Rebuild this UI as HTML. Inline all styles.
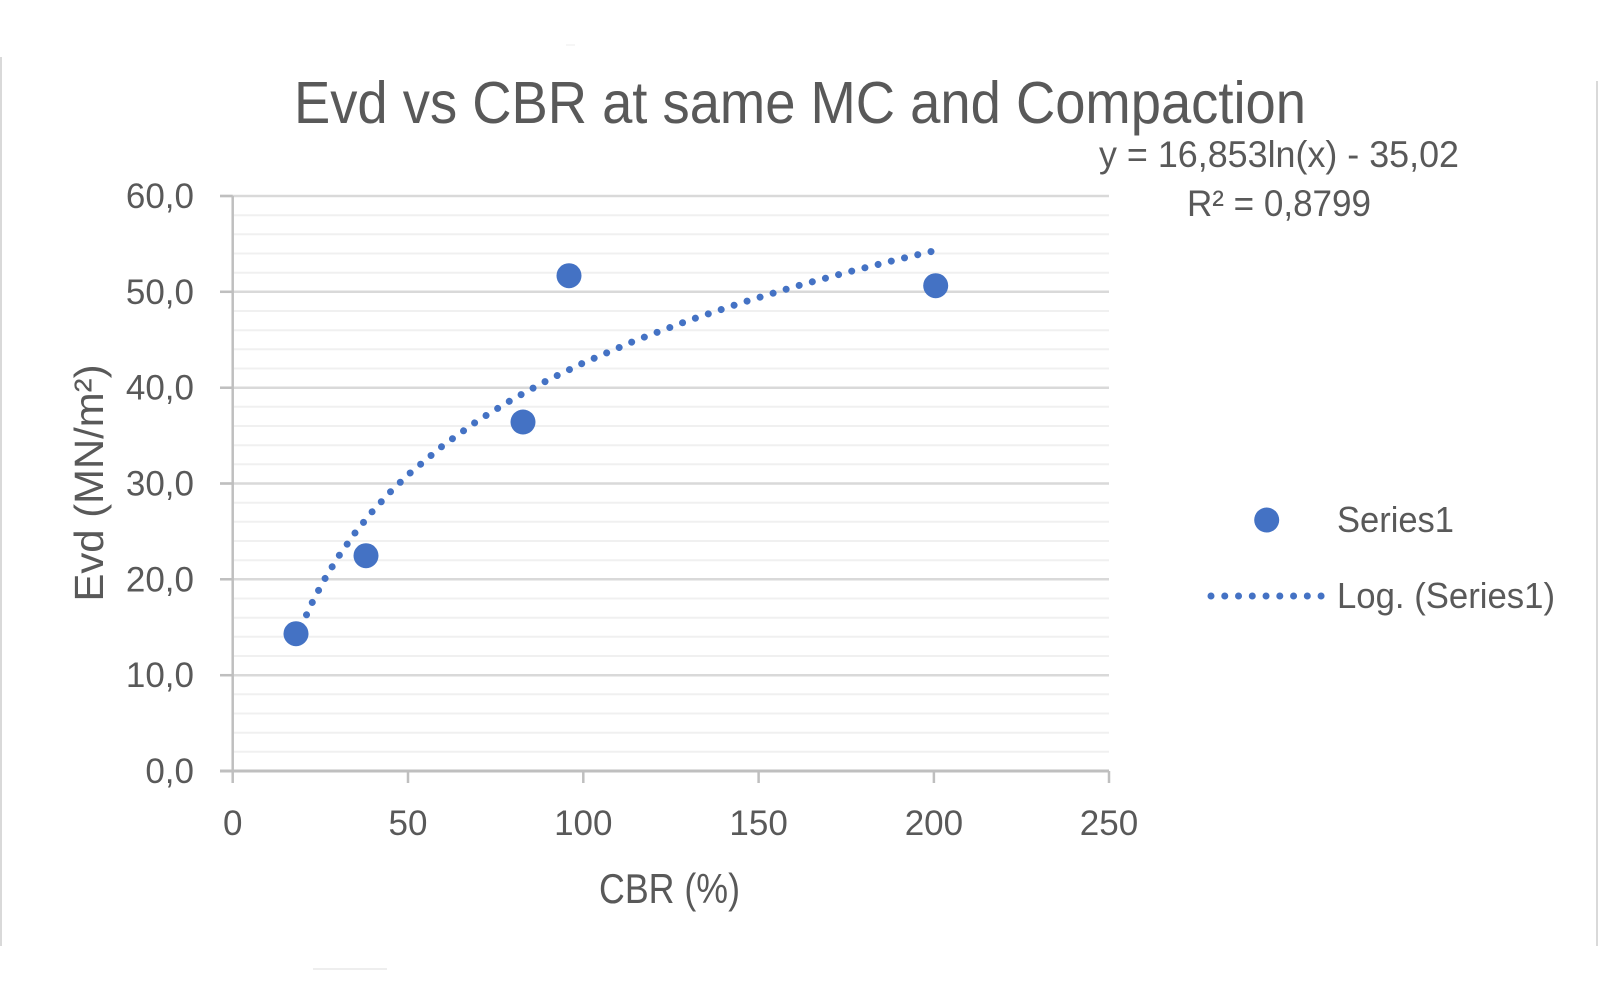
<!DOCTYPE html>
<html>
<head>
<meta charset="utf-8">
<style>
  html, body { margin: 0; padding: 0; background: #ffffff; }
  body { width: 1600px; height: 1000px; overflow: hidden; }
  svg { display: block; }
  text { font-family: "Liberation Sans", sans-serif; fill: #595959; }
</style>
</head>
<body>
<svg width="1600" height="1000" viewBox="0 0 1600 1000" xmlns="http://www.w3.org/2000/svg">
  <rect x="0" y="0" width="1600" height="1000" fill="#ffffff"/>

  <!-- outer chart borders -->
  <line x1="1" y1="57" x2="1" y2="946" stroke="#d9d9d9" stroke-width="2"/>
  <line x1="1597" y1="81" x2="1597" y2="946" stroke="#d9d9d9" stroke-width="2"/>
  <line x1="566" y1="45" x2="575" y2="45" stroke="#eeeeee" stroke-width="1"/>
  <line x1="313" y1="969" x2="387" y2="969" stroke="#e8e8e8" stroke-width="1.5"/>

  <!-- minor gridlines -->
  <g stroke="#f0f0f0" stroke-width="2">
    <line x1="233" y1="215.2" x2="1109" y2="215.2"/>
    <line x1="233" y1="234.3" x2="1109" y2="234.3"/>
    <line x1="233" y1="253.5" x2="1109" y2="253.5"/>
    <line x1="233" y1="272.7" x2="1109" y2="272.7"/>
    <line x1="233" y1="311.0" x2="1109" y2="311.0"/>
    <line x1="233" y1="330.2" x2="1109" y2="330.2"/>
    <line x1="233" y1="349.3" x2="1109" y2="349.3"/>
    <line x1="233" y1="368.5" x2="1109" y2="368.5"/>
    <line x1="233" y1="406.8" x2="1109" y2="406.8"/>
    <line x1="233" y1="426.0" x2="1109" y2="426.0"/>
    <line x1="233" y1="445.2" x2="1109" y2="445.2"/>
    <line x1="233" y1="464.3" x2="1109" y2="464.3"/>
    <line x1="233" y1="502.7" x2="1109" y2="502.7"/>
    <line x1="233" y1="521.8" x2="1109" y2="521.8"/>
    <line x1="233" y1="541.0" x2="1109" y2="541.0"/>
    <line x1="233" y1="560.2" x2="1109" y2="560.2"/>
    <line x1="233" y1="598.5" x2="1109" y2="598.5"/>
    <line x1="233" y1="617.7" x2="1109" y2="617.7"/>
    <line x1="233" y1="636.8" x2="1109" y2="636.8"/>
    <line x1="233" y1="656.0" x2="1109" y2="656.0"/>
    <line x1="233" y1="694.3" x2="1109" y2="694.3"/>
    <line x1="233" y1="713.5" x2="1109" y2="713.5"/>
    <line x1="233" y1="732.7" x2="1109" y2="732.7"/>
    <line x1="233" y1="751.8" x2="1109" y2="751.8"/>
  </g>

  <!-- major gridlines -->
  <g stroke="#d9d9d9" stroke-width="2.5">
    <line x1="220" y1="196" x2="1109" y2="196"/>
    <line x1="220" y1="291.8" x2="1109" y2="291.8"/>
    <line x1="220" y1="387.7" x2="1109" y2="387.7"/>
    <line x1="220" y1="483.5" x2="1109" y2="483.5"/>
    <line x1="220" y1="579.3" x2="1109" y2="579.3"/>
    <line x1="220" y1="675.2" x2="1109" y2="675.2"/>
  </g>

  <!-- axes -->
  <line x1="232.7" y1="196" x2="232.7" y2="783" stroke="#bfbfbf" stroke-width="2.5"/>
  <line x1="220" y1="771" x2="1109" y2="771" stroke="#bfbfbf" stroke-width="3"/>
  <g stroke="#bfbfbf" stroke-width="2.5">
    <line x1="220" y1="196" x2="232.7" y2="196"/>
    <line x1="220" y1="291.8" x2="232.7" y2="291.8"/>
    <line x1="220" y1="387.7" x2="232.7" y2="387.7"/>
    <line x1="220" y1="483.5" x2="232.7" y2="483.5"/>
    <line x1="220" y1="579.3" x2="232.7" y2="579.3"/>
    <line x1="220" y1="675.2" x2="232.7" y2="675.2"/>
    <line x1="408" y1="771" x2="408" y2="783"/>
    <line x1="583.3" y1="771" x2="583.3" y2="783"/>
    <line x1="758.6" y1="771" x2="758.6" y2="783"/>
    <line x1="933.9" y1="771" x2="933.9" y2="783"/>
    <line x1="1109" y1="771" x2="1109" y2="783"/>
  </g>

  <!-- y tick labels -->
  <g font-size="35" text-anchor="end">
    <text x="194" y="208">60,0</text>
    <text x="194" y="303.8">50,0</text>
    <text x="194" y="399.7">40,0</text>
    <text x="194" y="495.5">30,0</text>
    <text x="194" y="591.3">20,0</text>
    <text x="194" y="687.2">10,0</text>
    <text x="194" y="783">0,0</text>
  </g>

  <!-- x tick labels -->
  <g font-size="35" text-anchor="middle">
    <text x="232.7" y="835">0</text>
    <text x="408" y="835">50</text>
    <text x="583.3" y="835">100</text>
    <text x="758.6" y="835">150</text>
    <text x="933.9" y="835">200</text>
    <text x="1109" y="835">250</text>
  </g>

  <!-- title -->
  <text x="294" y="123" font-size="59" textLength="1012" lengthAdjust="spacingAndGlyphs">Evd vs CBR at same MC and Compaction</text>

  <!-- trendline equation -->
  <text x="1099" y="167" font-size="37" textLength="360" lengthAdjust="spacingAndGlyphs">y = 16,853ln(x) - 35,02</text>
  <text x="1187" y="216" font-size="37" textLength="184" lengthAdjust="spacingAndGlyphs">R² = 0,8799</text>

  <!-- axis titles -->
  <text transform="translate(103,483) rotate(-90)" font-size="41" text-anchor="middle" textLength="237" lengthAdjust="spacingAndGlyphs">Evd (MN/m²)</text>
  <text x="599" y="903" font-size="42" textLength="141" lengthAdjust="spacingAndGlyphs">CBR (%)</text>

  <!-- trendline -->
  <polyline fill="none" stroke="#4472c4" stroke-width="7" stroke-linecap="round" stroke-dasharray="0.01 13.6"
    points="295.8,639.8 302.8,622.8 313.3,600.2 323.9,580.4 337.9,557.3 355.4,532.4 372.9,510.8 390.5,491.8 408.0,474.8 443.1,445.4 478.1,420.4 513.2,398.9 548.2,379.9 583.3,362.9 635.9,340.3 688.5,320.5 741.1,302.9 793.7,286.9 846.3,272.5 898.8,259.2 935.6,250.5"/>

  <!-- data points -->
  <g fill="#4472c4">
    <circle cx="296" cy="633.7" r="12.5"/>
    <circle cx="366" cy="555.7" r="12.5"/>
    <circle cx="523" cy="422" r="12.5"/>
    <circle cx="569" cy="275.7" r="12.5"/>
    <circle cx="935.7" cy="285.7" r="12.5"/>
  </g>

  <!-- legend -->
  <circle cx="1266.7" cy="520" r="12.5" fill="#4472c4"/>
  <text x="1337" y="532" font-size="36" textLength="117" lengthAdjust="spacingAndGlyphs">Series1</text>
  <line x1="1211" y1="596" x2="1322" y2="596" stroke="#4472c4" stroke-width="7" stroke-linecap="round" stroke-dasharray="0.01 13.75"/>
  <text x="1337" y="608" font-size="36" textLength="218" lengthAdjust="spacingAndGlyphs">Log. (Series1)</text>
</svg>
</body>
</html>
